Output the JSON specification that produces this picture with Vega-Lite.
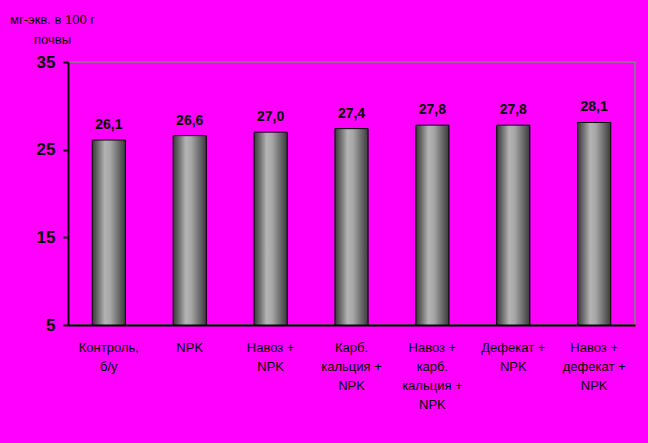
{
  "$schema": "https://vega.github.io/schema/vega-lite/v6.json",
  "width": 567,
  "height": 263,
  "autosize": "none",
  "padding": {"left": 68, "top": 62, "right": 13, "bottom": 118},
  "background": "#ff00ff",
  "config": {
    "locale": {"number": {"decimal": ",", "thousands": " ", "grouping": [3], "currency": ["", " руб."]}},
    "view": {"stroke": "#808080", "strokeWidth": 1.5},
    "font": "Liberation Sans",
    "axis": {"zindex": 1}
  },
  "data": {
    "values": [
      {"variant": "Контроль,|б/у", "value": 26.1},
      {"variant": "NPK", "value": 26.6},
      {"variant": "Навоз +|NPK", "value": 27.0},
      {"variant": "Карб.|кальция +|NPK", "value": 27.4},
      {"variant": "Навоз +|карб.|кальция +|NPK", "value": 27.8},
      {"variant": "Дефекат +|NPK", "value": 27.8},
      {"variant": "Навоз +|дефекат +|NPK", "value": 28.1}
    ]
  },
  "encoding": {
    "x": {
      "field": "variant",
      "type": "nominal",
      "sort": null,
      "scale": {"paddingInner": 0.59, "paddingOuter": 0.3},
      "axis": {
        "title": null,
        "labelExpr": "split(datum.label, '|')",
        "labelAngle": 0,
        "labelFont": "Liberation Sans",
        "labelFontSize": 13,
        "labelColor": "black",
        "labelLineHeight": 19,
        "labelBaseline": "top",
        "labelPadding": 16,
        "ticks": false,
        "domainColor": "black",
        "domainWidth": 2
      }
    }
  },
  "layer": [
    {
      "mark": {
        "type": "bar",
        "stroke": "black",
        "strokeWidth": 1,
        "color": {
          "gradient": "linear",
          "x1": 0, "x2": 1, "y1": 0, "y2": 0,
          "stops": [
            {"offset": 0, "color": "#383838"},
            {"offset": 0.15, "color": "#666666"},
            {"offset": 0.38, "color": "#b4b4b4"},
            {"offset": 0.55, "color": "#a6a6a6"},
            {"offset": 0.8, "color": "#6a6a6a"},
            {"offset": 1, "color": "#3a3a3a"}
          ]
        }
      },
      "encoding": {
        "y": {
          "field": "value",
          "type": "quantitative",
          "scale": {"domain": [5, 35], "zero": false, "nice": false},
          "axis": {
            "values": [5, 15, 25, 35],
            "grid": false,
            "domainColor": "black",
            "domainWidth": 2,
            "tickColor": "black",
            "tickWidth": 2,
            "tickSize": 5,
            "labelFont": "Liberation Sans",
            "labelFontSize": 17,
            "labelFontWeight": "bold",
            "labelColor": "black",
            "labelPadding": 8,
            "title": ["мг-экв. в 100 г", "почвы"],
            "titleAngle": 0,
            "titleAlign": "center",
            "titleBaseline": "top",
            "titleX": -16,
            "titleY": -49,
            "titleFont": "Liberation Sans",
            "titleFontSize": 13,
            "titleFontWeight": "normal",
            "titleColor": "black",
            "titleLineHeight": 20
          }
        },
        "y2": {"datum": 5}
      }
    },
    {
      "mark": {
        "type": "text",
        "baseline": "bottom",
        "dy": -8,
        "font": "Liberation Sans",
        "fontSize": 14,
        "fontWeight": "bold",
        "color": "black"
      },
      "encoding": {
        "y": {"field": "value", "type": "quantitative"},
        "text": {"field": "value", "type": "quantitative", "format": ".1f"}
      }
    }
  ]
}
